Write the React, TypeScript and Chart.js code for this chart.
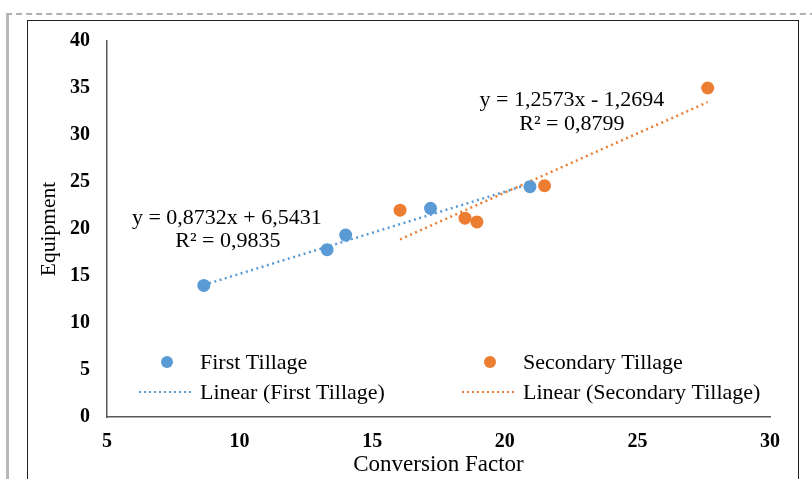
import React, { useEffect, useRef } from "react";
import { Chart, registerables } from "chart.js";

Chart.register(...registerables);

const firstX = [8.65, 13.3, 14.0, 17.2, 20.95];
const firstY = [14.0, 17.8, 19.35, 22.2, 24.5];
const secondX = [16.05, 18.5, 18.95, 21.5, 27.65];
const secondY = [22.0, 21.15, 20.75, 24.6, 35.0];
// trendline end points (as drawn)
const firstTrendX = [8.65, 20.95];
const firstTrendY = [14.05, 24.8];
const secondTrendX = [16.05, 27.65];
const secondTrendY = [18.9, 33.5];

const xTicks = [5, 10, 15, 20, 25, 30];
const yTicks = [0, 5, 10, 15, 20, 25, 30, 35, 40];

const seriesNames = ["First Tillage", "Secondary Tillage"];
const trendNames = ["Linear (First Tillage)", "Linear (Secondary Tillage)"];
const firstEq = ["y = 0,8732x + 6,5431", "R\u00B2 = 0,9835"];
const secondEq = ["y = 1,2573x - 1,2694", "R\u00B2 = 0,8799"];

const BLUE = "#5B9BD5";
const ORANGE = "#ED7D31";
const SERIF = "'Liberation Serif', 'Times New Roman', serif";

const zip = (xs: number[], ys: number[]) => xs.map((x, i) => ({ x, y: ys[i] }));

const overlayPlugin = {
  id: "overlay",
  afterDraw(chart: any) {
    const ctx = chart.ctx;
    const xs = chart.scales.x;
    const ys = chart.scales.y;
    ctx.save();
    ctx.fillStyle = "#000";
    ctx.font = `22px ${SERIF}`;
    ctx.textAlign = "center";
    ctx.textBaseline = "middle";
    // equation labels
    const bx = xs.getPixelForValue(9.52);
    ctx.fillText(firstEq[0], bx, ys.getPixelForValue(21.15));
    ctx.fillText(firstEq[1], bx + 1, ys.getPixelForValue(18.7));
    const ox = xs.getPixelForValue(22.53);
    ctx.fillText(secondEq[0], ox, ys.getPixelForValue(33.7));
    ctx.fillText(secondEq[1], ox, ys.getPixelForValue(31.15));

    // legend
    const L = chart.chartArea.left;
    const row1 = 362;
    const row2 = 392;
    const cols = [L, L + 323];
    const colors = [BLUE, ORANGE];
    ctx.textAlign = "left";
    for (let i = 0; i < 2; i++) {
      const c = cols[i];
      ctx.fillStyle = colors[i];
      ctx.beginPath();
      ctx.arc(c + 60, row1, 6, 0, Math.PI * 2);
      ctx.fill();
      ctx.strokeStyle = colors[i];
      ctx.lineWidth = 2;
      ctx.setLineDash([2, 3]);
      ctx.beginPath();
      ctx.moveTo(c + 32, row2);
      ctx.lineTo(c + 87, row2);
      ctx.stroke();
      ctx.setLineDash([]);
      ctx.fillStyle = "#000";
      ctx.fillText(seriesNames[i], c + 93, row1 + 1);
      ctx.fillText(trendNames[i], c + 93, row2 + 1);
    }
    ctx.restore();
  },
};

export default function App() {
  const ref = useRef<HTMLCanvasElement>(null);
  useEffect(() => {
    if (!ref.current) return;
    const chart = new Chart(ref.current, {
      type: "scatter",
      data: {
        datasets: [
          {
            label: seriesNames[0],
            data: zip(firstX, firstY),
            backgroundColor: BLUE,
            borderColor: BLUE,
            pointRadius: 6.5,
            pointBorderWidth: 0,
            order: 0,
          },
          {
            label: seriesNames[1],
            data: zip(secondX, secondY),
            backgroundColor: ORANGE,
            borderColor: ORANGE,
            pointRadius: 6.5,
            pointBorderWidth: 0,
            order: 0,
          },
          {
            label: trendNames[0],
            data: zip(firstTrendX, firstTrendY),
            showLine: true,
            borderColor: BLUE,
            borderWidth: 2.5,
            borderDash: [2, 3.5],
            pointRadius: 0,
            order: 1,
          },
          {
            label: trendNames[1],
            data: zip(secondTrendX, secondTrendY),
            showLine: true,
            borderColor: ORANGE,
            borderWidth: 2.5,
            borderDash: [2, 3.5],
            pointRadius: 0,
            order: 1,
          },
        ],
      },
      options: {
        animation: false,
        responsive: false,
        maintainAspectRatio: false,
        layout: { padding: { top: 41, right: 42, left: 0, bottom: 0 } },
        plugins: {
          legend: { display: false },
          tooltip: { enabled: false },
        },
        scales: {
          x: {
            type: "linear",
            min: 5,
            max: 30,
            afterBuildTicks: (s: any) => {
              s.ticks = xTicks.map((v) => ({ value: v }));
            },
            afterFit: (s: any) => {
              s.height = 62;
            },
            ticks: {
              padding: 13,
              color: "#000",
              font: { family: SERIF, size: 20, weight: "bold" },
            },
            grid: { display: false, drawTicks: false },
            border: { display: true, color: "#595959", width: 1.5 },
            title: {
              display: true,
              text: "Conversion Factor",
              color: "#000",
              font: { family: SERIF, size: 23 },
              padding: { top: 0, bottom: 0 },
            },
          },
          y: {
            type: "linear",
            min: 0,
            max: 40,
            afterBuildTicks: (s: any) => {
              s.ticks = yTicks.map((v) => ({ value: v }));
            },
            afterFit: (s: any) => {
              s.width = 107;
            },
            ticks: {
              padding: 17,
              color: "#000",
              font: { family: SERIF, size: 20, weight: "bold" },
            },
            grid: { display: false, drawTicks: false },
            border: { display: true, color: "#595959", width: 1.5 },
            title: {
              display: true,
              text: "Equipment",
              color: "#000",
              font: { family: SERIF, size: 21.5 },
              padding: { top: 36, bottom: 0 },
            },
          },
        },
      },
      plugins: [overlayPlugin],
    } as any);
    return () => chart.destroy();
  }, []);

  return (
    <div style={{ position: "absolute", left: 0, top: 0, width: 812, height: 479, overflow: "hidden", background: "#fff" }}>
      <div
        style={{
          position: "absolute",
          left: 6,
          top: 13,
          width: 820,
          height: 480,
          borderTop: "2px dashed #b0b0b0",
          borderLeft: "3px solid #b8b8b8",
          boxSizing: "border-box",
        }}
      />
      <div
        style={{
          position: "absolute",
          left: 27,
          top: 20,
          width: 772,
          height: 480,
          border: "1.5px solid #222",
          boxSizing: "border-box",
        }}
      />
      <canvas ref={ref} width={812} height={479} style={{ position: "absolute", left: 0, top: 0 }} />
    </div>
  );
}
